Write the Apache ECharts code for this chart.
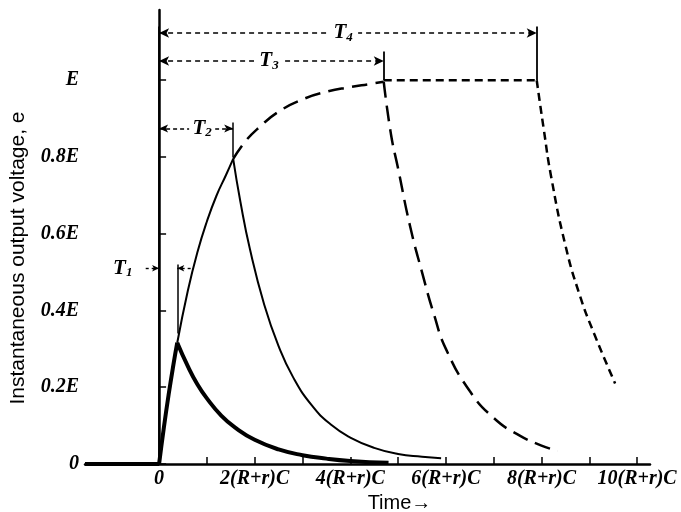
<!DOCTYPE html>
<html>
<head>
<meta charset="utf-8">
<script src="https://cdn.jsdelivr.net/npm/echarts@6/dist/echarts.min.js"></script>
<style>
html,body{margin:0;padding:0;background:#fff;}
#chart{width:681px;height:512px;}
</style>
</head>
<body>
<div id="chart"></div>
<script>
// ---- data (t in units of (R+r)C, e in units of E) ----
const xTickValues = [0,1,2,3,4,5,6,7,8,9,10];
const xLabelValues = [0,2,4,6,8,10];
const xLabelTexts = ['0','2(R+r)C','4(R+r)C','6(R+r)C','8(R+r)C','10(R+r)C'];
const yTickValues = [0,0.2,0.4,0.6,0.8,1.0];
const yLabelTexts = ['0','0.2E','0.4E','0.6E','0.8E','E'];

const baseline = [[-1.55,0],[0,0]];
const rise1 = [[0,0],[0.1,0.095],[0.2,0.181],[0.3,0.259],[0.38,0.316]];
const decay1 = [[0.38,0.316],[0.6,0.255],[0.8,0.208],[1.0,0.171],[1.3,0.126],[1.6,0.094],[2,0.063],[2.5,0.038],[3,0.023],[3.5,0.014],[4,0.008],[4.8,0.003]];
const rise2 = [[0.38,0.316],[0.6,0.451],[0.8,0.551],[1.0,0.632],[1.2,0.699],[1.4,0.753],[1.55,0.795]];
const decay2 = [[1.55,0.795],[1.7,0.684],[1.9,0.56],[2.2,0.415],[2.5,0.307],[2.8,0.227],[3.2,0.152],[3.6,0.102],[4,0.069],[4.5,0.042],[5,0.026],[5.5,0.019],[5.9,0.015]];
const rise3 = [[1.55,0.795],[1.8,0.84],[2.1,0.878],[2.5,0.918],[3,0.95],[3.5,0.97],[4,0.982],[4.4,0.99],[4.7,0.996]];
const decay3 = [[4.7,0.996],[4.85,0.86],[5,0.77],[5.25,0.62],[5.5,0.5],[5.75,0.39],[6,0.30],[6.5,0.19],[7,0.12],[7.5,0.077],[8,0.048],[8.34,0.034]];
const flat4 = [[4.7,1.0],[7.9,1.0]];
const decay4 = [[7.9,1.0],[8.05,0.87],[8.2,0.75],[8.5,0.57],[8.8,0.44],[9.1,0.34],[9.54,0.21]];

// interval markers
const T = {T1:0.38, T2:1.55, T3:4.7, T4:7.9};
const arrowLevels = {T1:0.51, T2:0.874, T3:1.05, T4:1.123};

const serifBI = {fontFamily:'Liberation Serif', fontStyle:'italic', fontWeight:'bold', color:'#000'};

function seg(name, data, width, dash, smooth){
  return {name, type:'line', data, symbol:'none', smooth: smooth===undefined?0.5:smooth,
    lineStyle:{color:'#000', width, type:dash||'solid', cap:'butt'}, silent:true, z:3};
}
const dashLong = [16,8];
const dashShort = [8,5];

function tLabel(sub, x, y, w){
  return {coord:[x,y], symbol:'rect', symbolSize:[w,20], itemStyle:{color:'#fff'},
    label:{show:true, position:'inside', color:'#000',
    formatter:'{a|T}{b|'+sub+'}',
    rich:{a:Object.assign({fontSize:21},serifBI), b:Object.assign({fontSize:13, padding:[9,0,0,0]},serifBI)}}};
}

const chart = echarts.init(document.getElementById('chart'), null, {renderer:'canvas'});
chart.setOption({
  animation:false,
  backgroundColor:'#fff',
  grid:{left:85, right:31, top:10, bottom:48, containLabel:false, outerBoundsMode:'none'},
  xAxis:{
    type:'value', min:-1.55, max:10.27,
    axisLine:{show:true, onZero:false, lineStyle:{color:'#000', width:2.5}},
    axisTick:{show:true, inside:true, length:7, customValues:xTickValues, lineStyle:{color:'#000', width:1.5}},
    axisLabel:{show:true, customValues:xLabelValues, margin:5, fontSize:20,
      fontFamily:'Liberation Serif', fontStyle:'italic', fontWeight:'bold', color:'#000',
      formatter:function(v){const i=xLabelValues.indexOf(Math.round(v)); return i>=0?xLabelTexts[i]:'';}},
    splitLine:{show:false},
    name:'Time\u2192', nameLocation:'middle', nameGap:28,
    nameTextStyle:{fontFamily:'Liberation Sans', fontSize:20, color:'#000', padding:[0,0,0,64]}
  },
  yAxis:{
    type:'value', min:0, max:1.183,
    axisLine:{show:true, lineStyle:{color:'#000', width:2.5}},
    axisTick:{show:true, inside:true, length:7, customValues:yTickValues, lineStyle:{color:'#000', width:1.5}},
    axisLabel:{show:true, customValues:yTickValues, margin:6, fontSize:20,
      fontFamily:'Liberation Serif', fontStyle:'italic', fontWeight:'bold', color:'#000',
      formatter:function(v){let k=0,b=1e9;yTickValues.forEach((t,i)=>{if(Math.abs(t-v)<b){b=Math.abs(t-v);k=i;}});return yLabelTexts[k];}},
    splitLine:{show:false},
    name:'Instantaneous output voltage, e', nameLocation:'middle', nameGap:56, nameRotate:90,
    nameTextStyle:{fontFamily:'Liberation Sans', fontSize:21, color:'#000', padding:[0,42,0,0]}
  },
  series:[
    seg('baseline', baseline, 4, 'solid', false),
    seg('rise1', rise1, 4),
    seg('decay1', decay1, 4),
    seg('rise2', rise2, 2),
    seg('decay2', decay2, 2),
    seg('rise3', rise3, 2.5, dashLong),
    seg('decay3', decay3, 2.5, dashLong),
    seg('flat4', flat4, 2.5, dashShort, false),
    seg('decay4', decay4, 2.5, dashShort),
    {
      name:'markers', type:'line', data:[], symbol:'none', silent:true, z:4,
      markLine:{
        silent:true, symbol:'none', animation:false,
        label:{show:false},
        data:[
          [{coord:[0,1.14], lineStyle:{type:'solid', width:1.8}},{coord:[0,0]}],
          [{coord:[T.T4,1.14], lineStyle:{type:'solid', width:1.8}},{coord:[T.T4,1.0]}],
          [{coord:[T.T3,1.075], lineStyle:{type:'solid', width:1.8}},{coord:[T.T3,1.0]}],
          [{coord:[T.T2,0.89], lineStyle:{type:'solid', width:1.5}},{coord:[T.T2,0.8]}],
          [{coord:[T.T1,0.52], lineStyle:{type:'solid', width:1.5}},{coord:[T.T1,0.34]}],
          [{coord:[0,arrowLevels.T4], symbol:'arrow', symbolSize:[7,10], lineStyle:{type:[5,4], width:1.6}},{coord:[T.T4,arrowLevels.T4], symbol:'arrow', symbolSize:[7,10]}],
          [{coord:[0,arrowLevels.T3], symbol:'arrow', symbolSize:[7,10], lineStyle:{type:[5,4], width:1.6}},{coord:[T.T3,arrowLevels.T3], symbol:'arrow', symbolSize:[7,10]}],
          [{coord:[0,arrowLevels.T2], symbol:'arrow', symbolSize:[6,9], lineStyle:{type:[4,3], width:1.5}},{coord:[T.T2,arrowLevels.T2], symbol:'arrow', symbolSize:[6,9]}],
          [{coord:[-0.28,arrowLevels.T1], symbol:'none', lineStyle:{type:[3,3], width:1.4}},{coord:[0,arrowLevels.T1], symbol:'arrow', symbolSize:[5,7]}],
          [{coord:[0.66,arrowLevels.T1], symbol:'none', lineStyle:{type:[3,3], width:1.4}},{coord:[T.T1,arrowLevels.T1], symbol:'arrow', symbolSize:[5,7]}]
        ],
        lineStyle:{color:'#000'}
      },
      markPoint:{
        silent:true, animation:false, z:5,
        data:[
          tLabel('4',3.85,arrowLevels.T4,30),
          tLabel('3',2.3,arrowLevels.T3,30),
          tLabel('2',0.9,arrowLevels.T2,26),
          tLabel('1',-0.76,arrowLevels.T1,22)
        ]
      }
    }
  ]
});
</script>
</body>
</html>
